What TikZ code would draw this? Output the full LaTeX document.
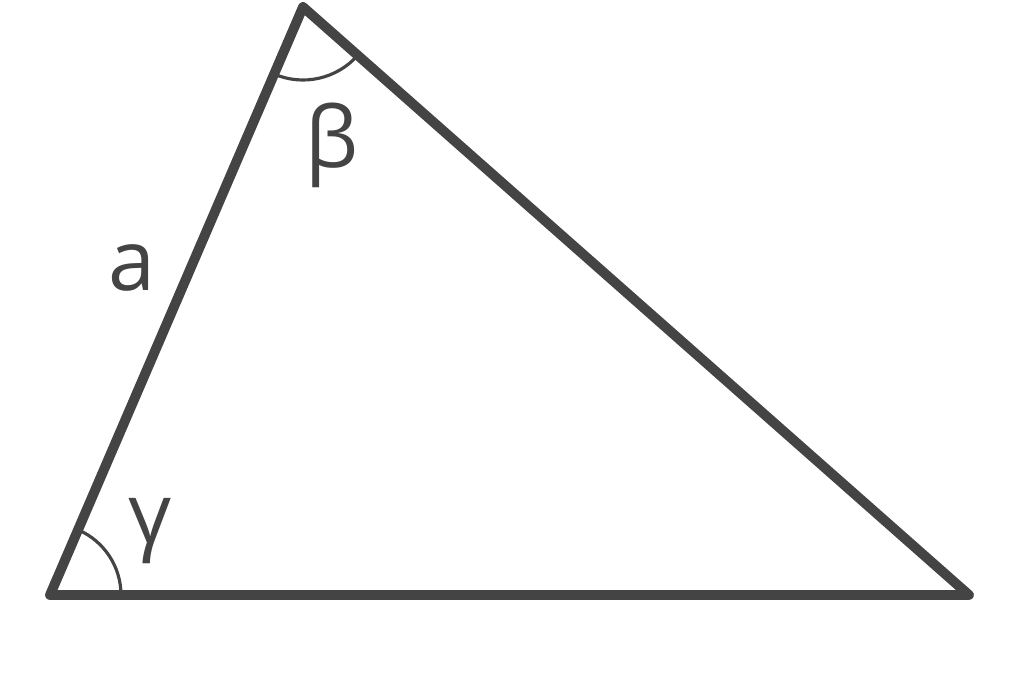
\documentclass[tikz,border=0pt]{standalone}
\usepackage{fontspec}
\setmainfont{Open Sans}
\usetikzlibrary{angles}
\definecolor{inkgray}{HTML}{444444}
\begin{document}
\begin{tikzpicture}[x=1cm,y=1cm]
    \useasboundingbox (0,0) rectangle (10.24,6.83);
    \coordinate (A) at (0.50,0.88);
    \coordinate (B) at (3.03,6.76);
    \coordinate (C) at (9.69,0.88);

    \draw[inkgray, line width=2.8pt, line join=round, line cap=round] (A) -- (B) -- (C) -- cycle;

    \pic[draw=inkgray, line width=0.9pt, angle radius=0.71cm] {angle=C--A--B};
    \pic[draw=inkgray, line width=0.9pt, angle radius=0.73cm] {angle=A--B--C};

    \node[text=inkgray, font=\fontsize{24}{28}\selectfont, inner sep=0] (sidea) at (1.32,4.15) {a};
    \node[text=inkgray, font=\fontsize{24}{28}\selectfont, inner sep=0] (beta) at (3.32,5.38) {β};
    \node[text=inkgray, font=\fontsize{24}{28}\selectfont, inner sep=0] (gamma) at (1.50,1.52) {γ};
\end{tikzpicture}
\end{document}
